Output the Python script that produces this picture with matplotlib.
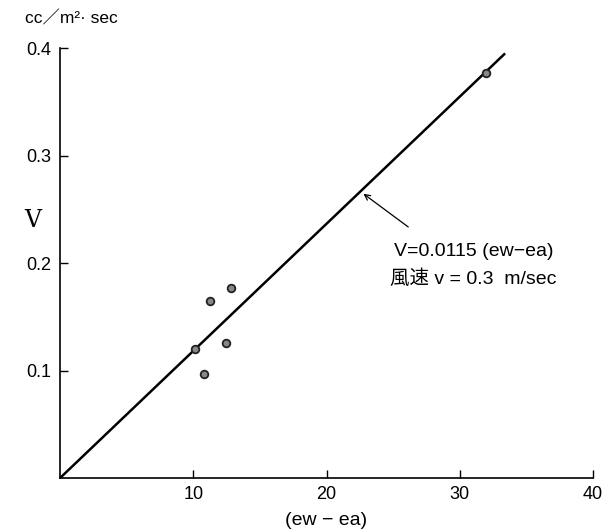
import matplotlib
matplotlib.use("Agg")
import matplotlib.pyplot as plt

plt.rcParams["font.family"] = ["Liberation Sans", "Noto Sans CJK JP"]

# measured points
ew_ea = [10.1, 10.8, 11.25, 12.45, 12.85, 31.95]
v_obs = [0.120, 0.097, 0.165, 0.126, 0.177, 0.377]

# fitted line as drawn
line_x = [0, 33.4]
line_y = [0, 0.395]

x_ticks = [10, 20, 30, 40]
y_ticks = [0.1, 0.2, 0.3, 0.4]

fig = plt.figure(figsize=(6.15, 5.3), dpi=100)
ax = fig.add_axes([0.0976, 0.098, 0.8667, 0.8114])

ax.plot(line_x, line_y, color="black", lw=1.8, solid_capstyle="butt")
ax.plot(ew_ea, v_obs, "o", ms=5.5, mfc="#888888", mec="#222222", mew=1.3)

ax.set_xlim(0, 40)
ax.set_ylim(0, 0.4)
ax.set_xticks(x_ticks)
ax.set_xticklabels([str(t) for t in x_ticks])
ax.set_yticks(y_ticks)
ax.set_yticklabels([str(t) for t in y_ticks])
ax.tick_params(direction="in", length=6, width=1, labelsize=13, pad=6)
ax.spines["top"].set_visible(False)
ax.spines["right"].set_visible(False)
for s in ["left", "bottom"]:
    ax.spines[s].set_linewidth(1.2)

ax.set_xlabel("(ew − ea)", fontsize=14, labelpad=6)
ax.text(-0.035, 0.6, "V", transform=ax.transAxes, fontsize=17,
        family="DejaVu Serif", ha="right", va="center")
fig.text(0.04, 0.965, "cc／m²· sec", fontsize=12.5, ha="left", va="center")

ax.annotate("", xy=(22.6, 0.266), xytext=(26.3, 0.232),
            arrowprops=dict(arrowstyle="->", color="black", lw=0.9))
ax.text(25.1, 0.211, "V=0.0115 (ew−ea)", fontsize=14, ha="left", va="center")
ax.text(24.8, 0.185, "風速 v = 0.3  m/sec", fontsize=14, ha="left", va="center")

fig.savefig("out.png", dpi=100)
